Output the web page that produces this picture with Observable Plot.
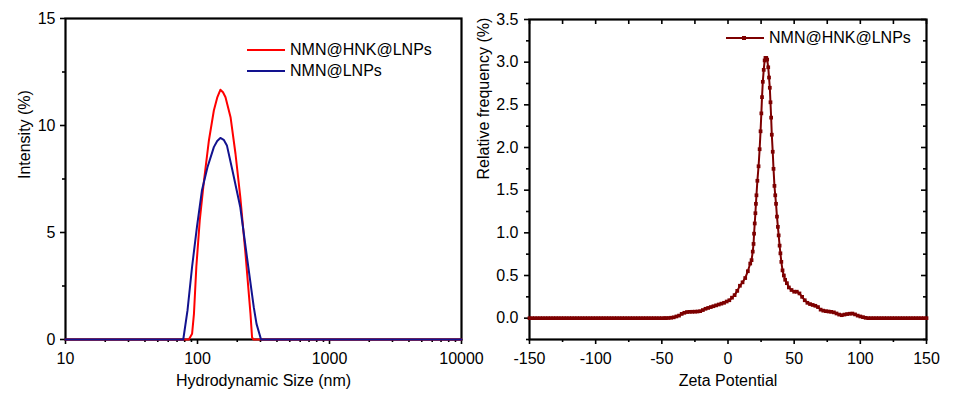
<!DOCTYPE html>
<html>
<head>
<meta charset="utf-8">
<script src="https://cdn.jsdelivr.net/npm/d3@7"></script>
<script src="https://cdn.jsdelivr.net/npm/@observablehq/plot@0.6"></script>
<style>
html, body { margin: 0; padding: 0; background: #fff; }
#wrap { position: relative; width: 955px; height: 400px; font-family: Arial, "Liberation Sans", sans-serif; }
.panel { position: absolute; top: 0; }
.leg { position: absolute; font-size: 16px; line-height: 16px; white-space: nowrap; color: #000; }
.sw { position: absolute; height: 2px; }
</style>
</head>
<body>
<div id="wrap"></div>
<script>
// ---------- Left panel: DLS size distribution ----------
const seriesNames = ["NMN@HNK@LNPs", "NMN@LNPs"];
const sizeRed = [10, 86, 91, 94, 98, 104, 112, 122, 133, 141, 149, 156, 163, 178, 194, 211, 231, 252, 259, 265, 10000];
const intensityRed = [0, 0, 0.27, 1.2, 3.4, 5.56, 7.43, 9.3, 10.7, 11.3, 11.67, 11.55, 11.32, 10.39, 8.68, 6.65, 4.0, 1.2, 0.1, 0, 0];
const sizeBlue = [10, 78, 84, 91, 99, 108, 119, 133, 141, 149, 158, 167, 184, 211, 237, 267, 280, 303, 10000];
const intensityBlue = [0, 0, 1.36, 3.4, 5.25, 6.96, 8.05, 8.99, 9.28, 9.42, 9.33, 9.07, 7.9, 6.18, 3.85, 1.5, 0.73, 0, 0];
const sizeMajorTicks = [10, 100, 1000, 10000];
const sizeMinorTicks = [20, 30, 40, 50, 60, 70, 80, 90, 200, 300, 400, 500, 600, 700, 800, 900, 2000, 3000, 4000, 5000, 6000, 7000, 8000, 9000];
const intensityMajorTicks = [0, 5, 10, 15];
const intensityMinorTicks = [2.5, 7.5, 12.5];

// ---------- Right panel: zeta potential distribution ----------
const zetaMV = [
  -150, -148, -146, -144, -142, -140, -138, -136, -134, -132, -130, -128, -126, -124, -122, -120, -118, -116, -114, -112,
  -110, -108, -106, -104, -102, -100, -98, -96, -94, -92, -90, -88, -86, -84, -82, -80, -78, -76, -74, -72,
  -70, -68, -66, -64, -62, -60, -58, -56, -54, -52, -50, -48,
  -47, -45, -43, -41, -39, -37, -35, -33, -31, -29, -27, -25, -23, -21, -19, -17, -15, -13, -11, -9,
  -7, -5, -3, -1, 1, 3, 5, 7, 9, 11, 13, 15,
  16.8, 17.8, 18.7, 19.3, 19.7, 20.2, 20.7, 21.1, 21.5, 22.2, 23.1, 23.9, 24.6, 25.2, 25.7, 26.3, 27.0, 27.7, 28.3, 28.9,
  29.6, 30.4, 31.0, 31.6, 32.1, 32.6, 33.1, 33.8, 34.4, 35.1, 35.7, 36.3, 37.0, 37.7, 38.3, 39.0, 39.6, 40.3, 41.2, 42.2,
  43.2, 44.5,
  46, 48, 50, 52, 54, 56, 58, 60, 62, 64, 66, 68, 70, 72, 74, 76, 78, 80, 82, 84,
  86, 88, 90, 92, 94, 96, 98, 100, 102, 104,
  106, 108, 110, 112, 114, 116, 118, 120, 122, 124, 126, 128, 130, 132, 134, 136, 138, 140, 142, 144,
  146, 148, 150
];
const zetaFreq = [
  0, 0, 0, 0, 0, 0, 0, 0, 0, 0, 0, 0, 0, 0, 0, 0, 0, 0, 0, 0,
  0, 0, 0, 0, 0, 0, 0, 0, 0, 0, 0, 0, 0, 0, 0, 0, 0, 0, 0, 0,
  0, 0, 0, 0, 0, 0, 0, 0, 0, 0, 0, 0,
  0, 0.002, 0.005, 0.01, 0.02, 0.03, 0.05, 0.063, 0.072, 0.074, 0.075, 0.076, 0.078, 0.082, 0.095, 0.11, 0.12, 0.13, 0.14, 0.15,
  0.16, 0.17, 0.18, 0.195, 0.21, 0.24, 0.27, 0.32, 0.38, 0.42, 0.47, 0.55,
  0.64, 0.68, 0.78, 0.87, 0.99, 1.11, 1.23, 1.34, 1.44, 1.61, 1.78, 1.98, 2.19, 2.40, 2.59, 2.77, 2.91, 3.02, 3.05, 3.05,
  3.03, 2.94, 2.82, 2.70, 2.53, 2.35, 2.15, 1.95, 1.75, 1.55, 1.44, 1.34, 1.19, 1.07, 0.97, 0.85, 0.76, 0.66, 0.56, 0.50,
  0.45, 0.41,
  0.36, 0.33, 0.31, 0.31, 0.29, 0.25, 0.21, 0.18, 0.165, 0.155, 0.145, 0.13, 0.10, 0.088, 0.082, 0.078, 0.074, 0.068, 0.055, 0.042,
  0.035, 0.042, 0.048, 0.052, 0.054, 0.044, 0.03, 0.02, 0.012, 0.004,
  0, 0, 0, 0, 0, 0, 0, 0, 0, 0, 0, 0, 0, 0, 0, 0, 0, 0, 0, 0,
  0, 0, 0
];
const zetaMajorTicks = [-150, -100, -50, 0, 50, 100, 150];
const zetaMinorTicks = [-125, -75, -25, 25, 75, 125];
const freqMajorTicks = [0, 0.5, 1.0, 1.5, 2.0, 2.5, 3.0, 3.5];
const freqMinorTicks = [-0.25, 0.25, 0.75, 1.25, 1.75, 2.25, 2.75, 3.25];

const titles = {
  sizeX: "Hydrodynamic Size (nm)",
  sizeY: "Intensity (%)",
  zetaX: "Zeta Potential",
  zetaY: "Relative frequency (%)"
};

const RED = "#ff0000", BLUE = "#12128f", WINE = "#7d0000";
const style = { fontFamily: 'Arial, "Liberation Sans", sans-serif', fontSize: "16px", background: "transparent", overflow: "visible", color: "#000" };

const redData = sizeRed.map((s, i) => ({ s, v: intensityRed[i] }));
const blueData = sizeBlue.map((s, i) => ({ s, v: intensityBlue[i] }));
const zetaData = zetaMV.map((z, i) => ({ z, f: zetaFreq[i] }));

const left = Plot.plot({
  width: 470, height: 400,
  marginLeft: 65, marginRight: 9, marginTop: 18, marginBottom: 61,
  style,
  x: { type: "log", domain: [10, 10000], label: null },
  y: { domain: [0, 15], label: null },
  marks: [
    Plot.axisX(sizeMajorTicks, { tickSize: 5, tickPadding: 8, strokeWidth: 1.6, tickFormat: d => String(d), label: null }),
    Plot.axisX(sizeMinorTicks, { tickSize: 3, strokeWidth: 1.6, tickFormat: () => "", label: null }),
    Plot.axisY(intensityMajorTicks, { tickSize: 5, tickPadding: 5, strokeWidth: 1.6, tickFormat: d => String(d), label: null }),
    Plot.axisY(intensityMinorTicks, { tickSize: 3, strokeWidth: 1.6, tickFormat: () => "", label: null }),
    Plot.frame({ stroke: "#000", strokeWidth: 2.2 }),
    Plot.line(redData, { x: "s", y: "v", stroke: RED, strokeWidth: 2 }),
    Plot.line(blueData, { x: "s", y: "v", stroke: BLUE, strokeWidth: 2 }),
    Plot.text([titles.sizeX], { text: d => d, frameAnchor: "bottom", dy: 46, fontSize: 16 }),
    Plot.text([titles.sizeY], { text: d => d, frameAnchor: "left", rotate: -90, dx: -41, fontSize: 16 })
  ]
});

const right = Plot.plot({
  width: 485, height: 400,
  marginLeft: 59, marginRight: 29, marginTop: 19, marginBottom: 61,
  style,
  x: { domain: [-150, 150], label: null },
  y: { domain: [-0.25, 3.5], label: null },
  marks: [
    Plot.axisX(zetaMajorTicks, { tickSize: 5, tickPadding: 8, strokeWidth: 1.6, tickFormat: d => String(d), label: null }),
    Plot.axisX(zetaMinorTicks, { tickSize: 3, strokeWidth: 1.6, tickFormat: () => "", label: null }),
    Plot.axisY(freqMajorTicks, { tickSize: 5, tickPadding: 6, strokeWidth: 1.6, tickFormat: d3.format(".1f"), label: null }),
    Plot.axisY(freqMinorTicks, { tickSize: 3, strokeWidth: 1.6, tickFormat: () => "", label: null }),
    // inward ticks on top and right edges
    Plot.tickX(zetaMajorTicks.concat(zetaMinorTicks), { x: d => d, stroke: "#000", strokeWidth: 1.6, insetBottom: 315 }),
    Plot.tickY(freqMajorTicks, { y: d => d, stroke: "#000", strokeWidth: 1.6, insetLeft: 392 }),
    Plot.tickY(freqMinorTicks, { y: d => d, stroke: "#000", strokeWidth: 1.6, insetLeft: 394 }),
    Plot.frame({ stroke: "#000", strokeWidth: 2.2 }),
    Plot.line(zetaData, { x: "z", y: "f", stroke: WINE, strokeWidth: 2 }),
    Plot.dot(zetaData, { x: "z", y: "f", symbol: "square", r: 2.1, fill: WINE, stroke: "none" }),
    Plot.text([titles.zetaX], { text: d => d, frameAnchor: "bottom", dy: 46, fontSize: 16 }),
    Plot.text([titles.zetaY], { text: d => d, frameAnchor: "left", rotate: -90, dx: -46, fontSize: 16 })
  ]
});

const wrap = document.getElementById("wrap");
left.classList.add("panel"); left.style.left = "0px";
right.classList.add("panel"); right.style.left = "470px";
wrap.appendChild(left);
wrap.appendChild(right);

// Legends (layout only)
function addLegend(x, y, color, label, marker) {
  const sw = document.createElement("div");
  sw.className = "sw";
  sw.style.left = x + "px"; sw.style.top = (y - 1) + "px"; sw.style.width = "38px"; sw.style.background = color;
  wrap.appendChild(sw);
  if (marker) {
    const m = document.createElement("div");
    m.style.cssText = `position:absolute;left:${x + 16}px;top:${y - 2}px;width:4px;height:4px;background:${color}`;
    wrap.appendChild(m);
  }
  const t = document.createElement("div");
  t.className = "leg";
  t.style.left = (x + 43) + "px"; t.style.top = (y - 8) + "px";
  t.textContent = label;
  wrap.appendChild(t);
}
addLegend(247, 50, RED, seriesNames[0], false);
addLegend(247, 71, BLUE, seriesNames[1], false);
addLegend(726, 38, WINE, seriesNames[0], true);
</script>
</body>
</html>
